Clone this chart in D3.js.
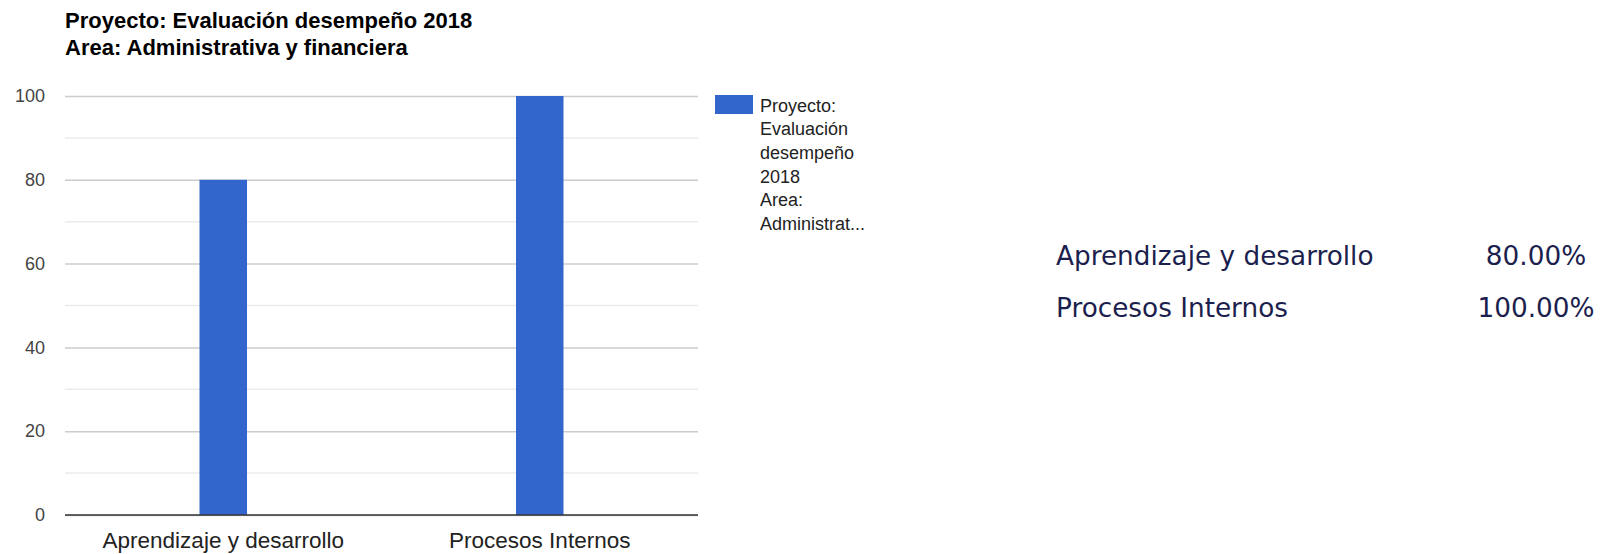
<!DOCTYPE html>
<html><head><meta charset="utf-8">
<script src="https://cdn.jsdelivr.net/npm/d3@7"></script>
<style>
html,body{margin:0;padding:0;background:#fff;}
svg{display:block;}
</style></head>
<body>
<svg id="c" width="1604" height="554"></svg>
<script>
const titleLines = ["Proyecto: Evaluación desempeño 2018", "Area: Administrativa y financiera"];
const categories = ["Aprendizaje y desarrollo", "Procesos Internos"];
const values = [80, 100];
const yTicks = [0, 20, 40, 60, 80, 100];
const yMinorTicks = [10, 30, 50, 70, 90];
const legendLines = ["Proyecto:", "Evaluación", "desempeño", "2018", "Area:", "Administrat..."];
const tableLabels = ["Aprendizaje y desarrollo", "Procesos Internos"];
const tableValues = ["80.00%", "100.00%"];

(function () {
const svg = d3.select("#c");
const pL = 65, pR = 698, pT = 96, pB = 515;

const x = d3.scaleBand().domain(categories).range([pL, pR]).paddingInner(0).paddingOuter(0);
const y = d3.scaleLinear().domain([0, 100]).range([pB, pT]);
const barW = 47.5;

// title
svg.append("g").selectAll("text").data(titleLines).join("text")
  .attr("x", 65).attr("y", (d, i) => 28 + i * 26.5)
  .attr("font-family", "Liberation Sans, Arial, sans-serif")
  .attr("font-weight", "bold").attr("font-size", 22).attr("fill", "#000")
  .text(d => d);

// minor gridlines
svg.append("g").selectAll("line").data(yMinorTicks).join("line")
  .attr("x1", pL).attr("x2", pR)
  .attr("y1", d => y(d)).attr("y2", d => y(d))
  .attr("stroke", "#ebebeb").attr("stroke-width", 1.5);

// major gridlines via axis
const yAxis = d3.axisLeft(y).tickValues(yTicks).tickSize(-(pR - pL)).tickPadding(20).tickFormat(d3.format("d"));
const ga = svg.append("g").attr("transform", `translate(${pL},0)`).call(yAxis);
ga.select(".domain").remove();
ga.selectAll(".tick line").attr("stroke", "#cccccc").attr("stroke-width", 1.5);
ga.selectAll(".tick text").attr("font-family", "Liberation Sans, Arial, sans-serif")
  .attr("font-size", 18).attr("fill", "#444").attr("x", -20);

// bars
svg.append("g").selectAll("rect").data(values).join("rect")
  .attr("x", (d, i) => x(categories[i]) + x.bandwidth() / 2 - barW / 2)
  .attr("width", barW)
  .attr("y", d => y(d))
  .attr("height", d => y(0) - y(d))
  .attr("fill", "#3366cc");

// baseline
svg.append("line").attr("x1", pL).attr("x2", pR)
  .attr("y1", y(0)).attr("y2", y(0)).attr("stroke", "#333").attr("stroke-width", 1.5);

// x labels
const xAxis = d3.axisBottom(x).tickSize(0).tickPadding(17);
const gx = svg.append("g").attr("transform", `translate(0,${pB})`).call(xAxis);
gx.select(".domain").remove();
gx.selectAll(".tick text").attr("font-family", "Liberation Sans, Arial, sans-serif")
  .attr("font-size", 22.5).attr("fill", "#222");

// legend
svg.append("rect").attr("x", 715).attr("y", 95).attr("width", 38).attr("height", 19).attr("fill", "#3366cc");
svg.append("g").selectAll("text").data(legendLines).join("text")
  .attr("x", 760).attr("y", (d, i) => 111.5 + i * 23.7)
  .attr("font-family", "Liberation Sans, Arial, sans-serif")
  .attr("font-size", 18).attr("fill", "#222")
  .text(d => d);

// table
const tg = svg.append("g");
tg.selectAll("text.lab").data(tableLabels).join("text").attr("class", "lab")
  .attr("x", 1056).attr("y", (d, i) => 264.5 + i * 52)
  .attr("font-family", "DejaVu Sans, Verdana, sans-serif")
  .attr("font-size", 26.3).attr("fill", "#1c1f4e")
  .text(d => d);
tg.selectAll("text.val").data(tableValues).join("text").attr("class", "val")
  .attr("x", 1536).attr("y", (d, i) => 264.5 + i * 52)
  .attr("text-anchor", "middle")
  .attr("font-family", "DejaVu Sans, Verdana, sans-serif")
  .attr("font-size", 26.3).attr("fill", "#1c1f4e")
  .text(d => d);
})();
</script>
</body></html>
